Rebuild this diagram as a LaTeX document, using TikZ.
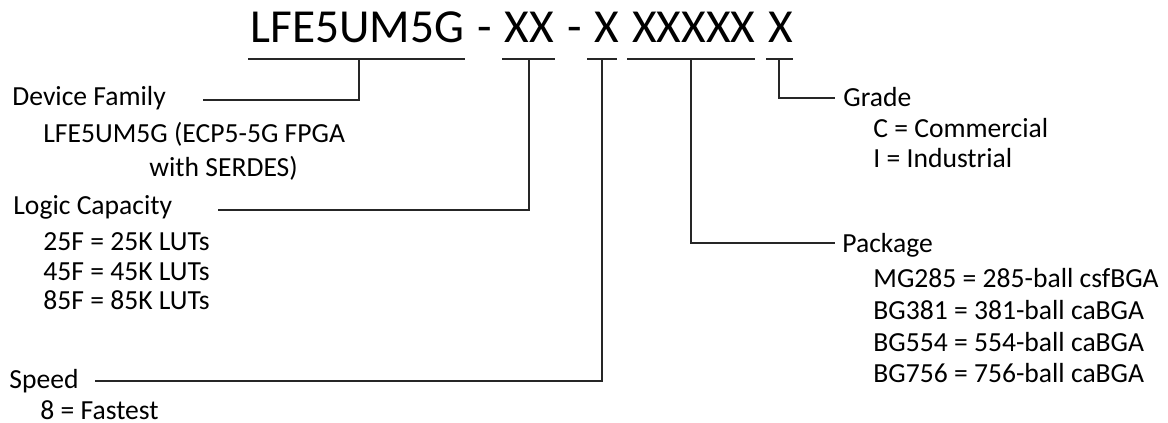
\documentclass[tikz,border=0pt]{standalone}
\usepackage{fontspec}
\setmainfont{Carlito}
\newfontfamily\titlefont{Carlito}[WordSpace=1.22]
\begin{document}
\begin{tikzpicture}[x=0.5pt,y=-0.5pt,
  lbl/.style={anchor=base west,inner sep=0pt,font=\fontsize{13.8pt}{16pt}\selectfont},
  ttl/.style={anchor=base west,inner sep=0pt,font=\titlefont\fontsize{23.7pt}{28pt}\selectfont},
  conn/.style={line width=0.65pt,draw=black!85}]
\useasboundingbox (0,0) rectangle (1168,423);
% title
\node[ttl] (title) at (250,42) {LFE5UM5G - XX - X XXXXX X};
% underline segments
\coordinate (u1a) at (248,59); \coordinate (u1b) at (465,59); \coordinate (t1) at (359,59);
\coordinate (u2a) at (502,59); \coordinate (u2b) at (555,59); \coordinate (t2) at (529,59);
\coordinate (u3a) at (587,59); \coordinate (u3b) at (617,59); \coordinate (t3) at (602,59);
\coordinate (u4a) at (627,59); \coordinate (u4b) at (755,59); \coordinate (t4) at (691,59);
\coordinate (u5a) at (766,59); \coordinate (u5b) at (793,59); \coordinate (t5) at (779,59);
\draw[conn] (u1a) -- (u1b);
\draw[conn] (u2a) -- (u2b);
\draw[conn] (u3a) -- (u3b);
\draw[conn] (u4a) -- (u4b);
\draw[conn] (u5a) -- (u5b);
% labels left
\node[lbl] (dev) at (12,105) {Device Family};
\node[lbl] (dev1) at (43,142) {LFE5UM5G (ECP5-5G FPGA};
\node[lbl] (dev2) at (149,176) {with SERDES)};
\node[lbl] (log) at (13,214) {Logic Capacity};
\node[lbl] (log1) at (43,250) {25F = 25K LUTs};
\node[lbl] (log2) at (43,280) {45F = 45K LUTs};
\node[lbl] (log3) at (43,309) {85F = 85K LUTs};
\node[lbl] (spd) at (9,388) {Speed};
\node[lbl] (spd1) at (40,419) {8 = Fastest};
% labels right
\node[lbl] (grd) at (843,106) {Grade};
\node[lbl] (grd1) at (873,137) {C = Commercial};
\node[lbl] (grd2) at (873,167) {I = Industrial};
\node[lbl] (pkg) at (842,252) {Package};
\node[lbl] (pkg1) at (873,287) {MG285 = 285-ball csfBGA};
\node[lbl] (pkg2) at (873,319) {BG381 = 381-ball caBGA};
\node[lbl] (pkg3) at (873,351) {BG554 = 554-ball caBGA};
\node[lbl] (pkg4) at (873,382) {BG756 = 756-ball caBGA};
% connector ends
\coordinate (e1) at (203,100);
\coordinate (e2) at (218,210);
\coordinate (e3) at (95,381);
\coordinate (e4) at (835,243);
\coordinate (e5) at (835,98);
\draw[conn] (t1) |- (e1);
\draw[conn] (t2) |- (e2);
\draw[conn] (t3) |- (e3);
\draw[conn] (t4) |- (e4);
\draw[conn] (t5) |- (e5);
\end{tikzpicture}
\end{document}
